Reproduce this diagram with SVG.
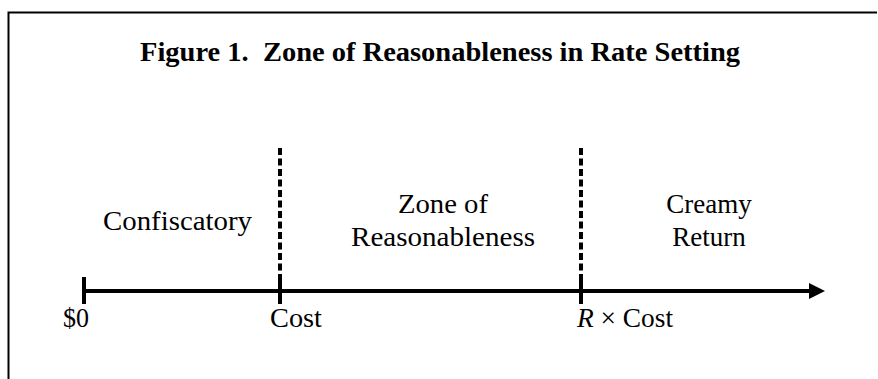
<svg xmlns="http://www.w3.org/2000/svg" width="878" height="379" viewBox="0 0 878 379">
<style>
text{font-family:"Liberation Serif","Times New Roman",serif;font-size:27px;fill:#000;}
.t{font-weight:bold;white-space:pre;}
.c{text-anchor:middle;}
.dash{stroke:#000;stroke-width:4;stroke-dasharray:7 3.5;fill:none;}
.ax{stroke:#000;stroke-width:4;fill:none;}
</style>
<defs>
<marker id="ah" viewBox="0 0 16 16" refX="0" refY="8" markerWidth="16" markerHeight="16" markerUnits="userSpaceOnUse" orient="auto">
<path d="M0,0 L16,8 L0,16 Z" fill="#000"/>
</marker>
</defs>
<g id="frame">
<path d="M8.5,379 V12.5 H877" stroke="#000" stroke-width="2" fill="none"/>
</g>
<g id="title">
<text class="t" x="140" y="61" textLength="600" lengthAdjust="spacingAndGlyphs">Figure 1.  Zone of Reasonableness in Rate Setting</text>
</g>
<g id="connectors">
<line class="ax" x1="84" y1="291" x2="809" y2="291" marker-end="url(#ah)"/>
<line class="ax" x1="84" y1="277" x2="84" y2="304"/>
<line class="ax" x1="280" y1="280" x2="280" y2="304"/>
<line class="ax" x1="581" y1="280" x2="581" y2="304"/>
<line class="dash" x1="280" y1="148" x2="280" y2="289"/>
<line class="dash" x1="581" y1="148" x2="581" y2="289"/>
</g>
<g id="confiscatory">
<text x="103" y="230" textLength="149" lengthAdjust="spacingAndGlyphs">Confiscatory</text>
</g>
<g id="zone">
<text x="398" y="213" textLength="90" lengthAdjust="spacingAndGlyphs">Zone of</text>
<text x="351" y="246" textLength="184" lengthAdjust="spacingAndGlyphs">Reasonableness</text>
</g>
<g id="creamy">
<text class="c" x="709" y="213">Creamy</text>
<text class="c" x="709" y="246">Return</text>
</g>
<g id="labels">
<text x="63" y="327" textLength="26" lengthAdjust="spacingAndGlyphs">$0</text>
<text x="270" y="327" textLength="52" lengthAdjust="spacingAndGlyphs">Cost</text>
<text x="577" y="327" textLength="96" lengthAdjust="spacingAndGlyphs"><tspan font-style="italic">R</tspan> × Cost</text>
</g>
</svg>
